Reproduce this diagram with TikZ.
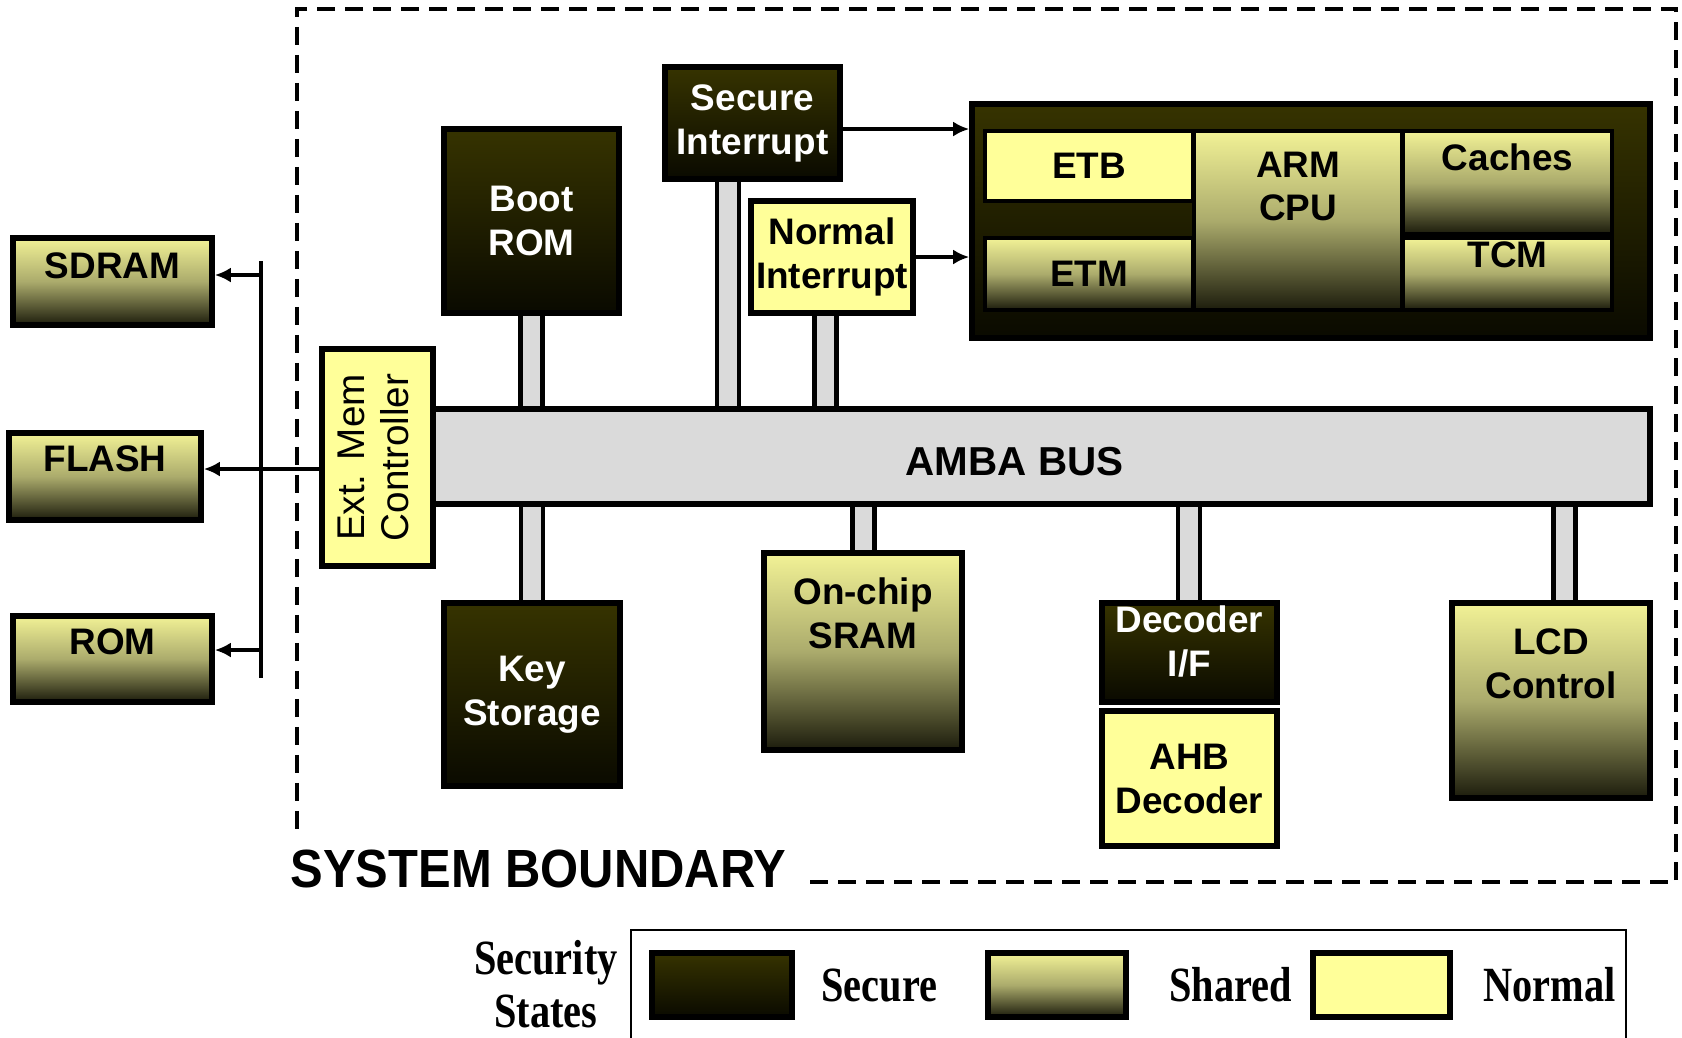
\documentclass[tikz,border=0pt]{standalone}
\usepackage{fontspec}
\setmainfont{Liberation Serif}
\setsansfont{Liberation Sans}
\newfontfamily\legendfont[FakeStretch=0.82]{Liberation Serif}
\newfontfamily\bndfont[FakeStretch=0.91]{Liberation Sans}
\usetikzlibrary{positioning,arrows.meta}
\definecolor{nrmyellow}{HTML}{FFFF99}
\definecolor{shrtop}{HTML}{F2F296}
\definecolor{shrmid}{HTML}{ABAB6C}
\definecolor{shrbot}{HTML}{1C1C0C}
\definecolor{sectop}{HTML}{363300}
\definecolor{secbot}{HTML}{0A0A00}
\definecolor{busgray}{HTML}{DADADA}
\tikzset{
    blk/.style={draw, line width=1.6pt, inner sep=0pt, align=center, font=\sffamily\bfseries\fontsize{10.5}{12.5}\selectfont},
    secbox/.style={blk, top color=sectop, bottom color=secbot, text=white},
    shrbox/.style={blk, top color=shrtop, bottom color=shrbot, middle color=shrmid},
    nrmbox/.style={blk, fill=nrmyellow},
    inbox/.style={line width=1.2pt},
    toplbl/.style={anchor=north, inner sep=0pt, yshift=-#1, align=center, font=\sffamily\bfseries\fontsize{10.5}{12.5}\selectfont},
    busbar/.style={draw, line width=1.6pt, fill=busgray, inner sep=0pt},
    stubline/.style={line width=1.3pt},
    wire/.style={line width=1.4pt},
    memarrow/.style={wire, -{Latex[length=1.6mm,width=1.5mm]}},
    boundary/.style={line width=1.3pt, dash pattern=on 1.8mm off 1mm},
    legendtxt/.style={font=\legendfont\bfseries\fontsize{14}{15}\selectfont, inner sep=0pt, align=center}
}

\begin{document}
\begin{tikzpicture}[x=0.1mm, y=-0.1mm]
    \useasboundingbox (0,0) rectangle (1682,1037);

    % external memories
    \node[shrbox, minimum width=19.9mm, minimum height=8.7mm, label={[toplbl=1.7mm]north:SDRAM}] (sdram) at (112.5,281.5) {};
    \node[shrbox, minimum width=19.2mm, minimum height=8.7mm, label={[toplbl=1.5mm]north:FLASH}] (flash) at (105,476.5) {};
    \node[shrbox, minimum width=19.9mm, minimum height=8.6mm, label={[toplbl=1.5mm]north:ROM}] (rom) at (112.5,659) {};

    % bus
    \node[busbar, minimum width=121.7mm, minimum height=9.5mm, label={[font=\sffamily\bfseries\fontsize{11.5}{13}\selectfont, xshift=-2.7mm, yshift=-0.5mm]center:AMBA BUS}] (bus) at (1041.5,456.5) {};
    \node[nrmbox, font=\sffamily\fontsize{11}{12.5}\selectfont, minimum width=11.1mm, minimum height=21.7mm] (extmem) at (377.5,457.5) {\rotatebox{90}{\begin{tabular}{@{}c@{}}Ext. Mem\\Controller\end{tabular}}};

    % above the bus
    \node[secbox, minimum width=17.5mm, minimum height=18.4mm] (boot) at (531.5,221) {Boot\\ROM};
    \node[secbox, minimum width=17.5mm, minimum height=11.2mm] (secint) at (752.5,123) {Secure\\Interrupt};
    \node[nrmbox, minimum width=16.2mm, minimum height=11.2mm] (normint) at (832,257) {Normal\\Interrupt};
    \node[secbox, minimum width=67.8mm, minimum height=23.4mm] (cpu) at (1311,221) {};
    \node[nrmbox, inbox, minimum width=20.8mm, minimum height=7mm] (etb) at (1089,166) {ETB};
    \node[shrbox, inbox, minimum width=20.8mm, minimum height=7.2mm] (etm) at (1089,274) {ETM};
    \node[shrbox, inbox, minimum width=20.8mm, minimum height=17.9mm, label={[toplbl=2.2mm]north:ARM\\CPU}] (armcpu) at (1298,220.5) {};
    \node[shrbox, inbox, minimum width=20.9mm, minimum height=10.3mm, label={[toplbl=1.4mm]north:Caches}] (caches) at (1507.5,182.5) {};
    \node[shrbox, inbox, minimum width=20.9mm, minimum height=7.2mm, label={[toplbl=0.5mm]north:TCM}] (tcm) at (1507.5,274) {};

    % below the bus
    \node[secbox, minimum width=17.6mm, minimum height=18.3mm] (key) at (532,694.5) {Key\\Storage};
    \node[shrbox, minimum width=19.8mm, minimum height=19.7mm, label={[toplbl=2.7mm]north:On-chip\\SRAM}] (sram) at (863,651.5) {};
    \node[secbox, minimum width=17.5mm, minimum height=9.9mm, label={[toplbl=0.5mm, text=white]north:Decoder\\I/F}] (dec) at (1189.5,652.5) {};
    \node[nrmbox, minimum width=17.5mm, minimum height=13.5mm] (ahb) at (1189.5,778.5) {AHB\\Decoder};
    \node[shrbox, minimum width=19.8mm, minimum height=19.5mm, label={[toplbl=2.8mm]north:LCD\\Control}] (lcd) at (1551,700.5) {};

    % bus stubs
    \foreach \blkname/\dx in {boot/0, secint/-2.45, normint/-0.65} {
        \coordinate (stubl) at ([xshift=\dx mm-1.1mm]\blkname.south);
        \coordinate (stubr) at ([xshift=\dx mm+1.1mm]\blkname.south);
        \fill[busgray] (stubl) rectangle (stubr |- bus.north);
        \draw[stubline] (stubl) -- (stubl |- bus.north) (stubr) -- (stubr |- bus.north);
    }
    \foreach \blkname/\dx in {key/0, sram/0.05, dec/-0.05, lcd/1.35} {
        \coordinate (stubl) at ([xshift=\dx mm-1.1mm]\blkname.north);
        \coordinate (stubr) at ([xshift=\dx mm+1.1mm]\blkname.north);
        \fill[busgray] (stubl) rectangle (stubr |- bus.south);
        \draw[stubline] (stubl) -- (stubl |- bus.south) (stubr) -- (stubr |- bus.south);
    }

    % interrupts into the cpu
    \coordinate (secirq) at ([yshift=-0.6mm]secint.east);
    \draw[memarrow] (secirq) -- (secirq -| cpu.west);
    \draw[memarrow] (normint.east) -- (normint.east -| cpu.west);

    % external memory bus
    \coordinate (xbtop) at (261,261);
    \coordinate (xbbot) at (261,678);
    \coordinate (xbsdram) at (261,275);
    \coordinate (xbflash) at (261,469);
    \coordinate (xbrom) at (261,650);
    \draw[wire] (xbtop) -- (xbbot);
    \draw[memarrow] (extmem.west |- xbflash) -- (flash.east |- xbflash);
    \draw[memarrow] (xbsdram) -- (sdram.east |- xbsdram);
    \draw[memarrow] (xbrom) -- (rom.east |- xbrom);

    % system boundary
    \node[font=\bndfont\bfseries\fontsize{15.3}{16}\selectfont, anchor=west, inner sep=0pt] (sysbnd) at (290,869) {SYSTEM BOUNDARY};
    \draw[boundary] (810,882) -- (1676,882) -- (1676,9) -- (297,9) -- (297,831);

    % legend
    \node[draw, line width=0.6pt, anchor=north west, minimum width=99.5mm, minimum height=15mm] (legend) at (630,929) {};
    \node[legendtxt] (secstates) at (546,984) {Security\\States};
    \node[secbox, minimum width=14mm, minimum height=6.4mm] (secsw) at (722,985) {};
    \node[legendtxt, right=2.6mm of secsw] (seclbl) {Secure};
    \node[shrbox, minimum width=13.8mm, minimum height=6.4mm] (shrsw) at (1057,985) {};
    \node[legendtxt, right=4mm of shrsw] (shrlbl) {Shared};
    \node[nrmbox, minimum width=13.7mm, minimum height=6.4mm] (nrmsw) at (1381.5,985) {};
    \node[legendtxt, right=3mm of nrmsw] (nrmlbl) {Normal};
\end{tikzpicture}
\end{document}
